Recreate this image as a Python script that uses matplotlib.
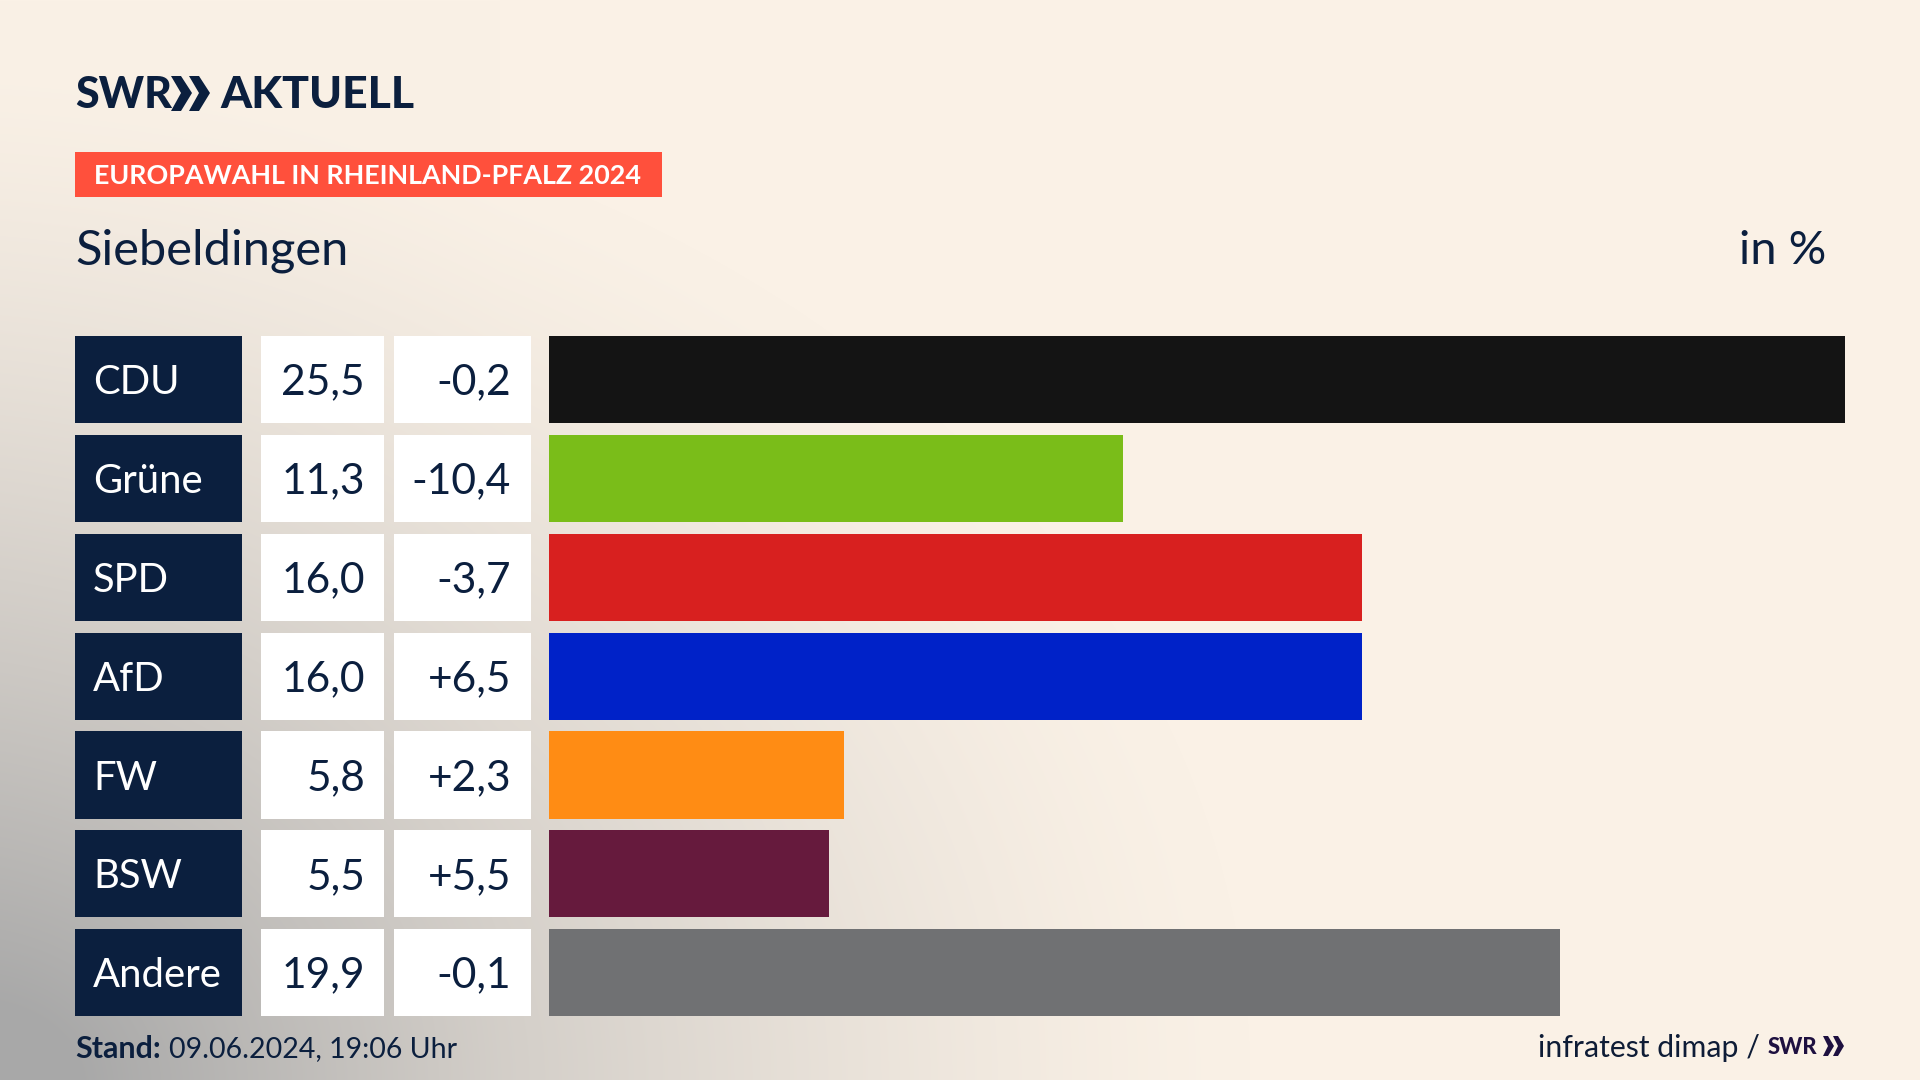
import numpy as np
import matplotlib
matplotlib.use("Agg")
import matplotlib.pyplot as plt
from matplotlib.patches import Rectangle, Polygon
from matplotlib.colors import to_rgb

parties = ["CDU", "Grüne", "SPD", "AfD", "FW", "BSW", "Andere"]
shares = [25.5, 11.3, 16.0, 16.0, 5.8, 5.5, 19.9]
changes = ["-0,2", "-10,4", "-3,7", "+6,5", "+2,3", "+5,5", "-0,1"]
colors = ["#141414", "#7ABD19", "#D8201F", "#0022C8", "#FF8C14", "#661A3D", "#707173"]

NAVY = "#0B1F3E"
FONT = "Lato"
W, H = 1920, 1080
fig = plt.figure(figsize=(19.2, 10.8), dpi=100)

# background gradient
bg = fig.add_axes([0, 0, 1, 1]); bg.axis("off")
yy, xx = np.mgrid[0:H, 0:W]
d1 = np.sqrt((xx / 1250.0) ** 2 + ((H - yy) / 1000.0) ** 2)
t1 = np.clip(1 - d1, 0, 1) ** 1.35
d2 = np.clip(1 - xx / 500.0, 0, 1) * np.clip(yy / 1080.0, 0, 1)
t = np.clip(t1 * 0.95 + d2 * 0.15, 0, 1)[..., None]
c0, c1 = np.array(to_rgb("#FAF1E6")), np.array(to_rgb("#A8A8A8"))
bg.imshow(c0 * (1 - t) + c1 * t, extent=(0, W, H, 0), aspect="auto")
bg.set_xlim(0, W); bg.set_ylim(H, 0)

# overlay in pixel coordinates
ov = fig.add_axes([0, 0, 1, 1]); ov.axis("off"); ov.patch.set_alpha(0)
ov.set_xlim(0, W); ov.set_ylim(H, 0)

def px(v):
    return v * 0.72

ov.text(75, 95, "SWR", family=FONT, weight="black", size=px(43), color=NAVY, va="center", ha="left")
for x0 in (171, 189):
    ov.add_patch(Polygon([(x0, 76), (x0 + 10, 76), (x0 + 21, 93), (x0 + 10, 111), (x0, 111), (x0 + 10, 93)],
                         closed=True, color=NAVY, lw=0))
ov.text(220, 95, "AKTUELL", family=FONT, weight="black", size=px(44.5), color=NAVY, va="center", ha="left")

ov.add_patch(Rectangle((75, 152), 587, 45, color="#FF503C", lw=0))
ov.text(94, 176, "EUROPAWAHL IN RHEINLAND-PFALZ 2024", family=FONT, weight="bold", size=px(26.9),
        color="white", va="center", ha="left")
ov.text(75, 251, "Siebeldingen", family=FONT, size=px(48.8), color=NAVY, va="center", ha="left")
ov.text(1826, 251, "in %", family=FONT, size=px(47), color=NAVY, va="center", ha="right")

row_h = 87.2
pitch = 98.85
top = 336
for i, (p, s, c) in enumerate(zip(parties, shares, changes)):
    y = top + i * pitch
    ov.add_patch(Rectangle((75, y), 167, row_h, color=NAVY, lw=0))
    ov.add_patch(Rectangle((261, y), 123, row_h, color="white", lw=0))
    ov.add_patch(Rectangle((394, y), 137, row_h, color="white", lw=0))
    ym = y + row_h / 2 + 3
    ov.text(93, ym, p, family=FONT, size=px(40), color="white", va="center", ha="left")
    ov.text(365, ym, f"{s:.1f}".replace(".", ","), family=FONT, size=px(42.5), color=NAVY, va="center", ha="right")
    ov.text(511, ym, c, family=FONT, size=px(42.5), color=NAVY, va="center", ha="right")

# bars on data axes
ax = fig.add_axes([549 / W, 0, (1845 - 549) / W, 1]); ax.axis("off"); ax.patch.set_alpha(0)
ax.set_xlim(0, 25.5); ax.set_ylim(H, 0)
centers = [top + i * pitch + row_h / 2 for i in range(len(parties))]
ax.barh(centers, shares, height=row_h, color=colors, linewidth=0)

ov.text(75, 1049, "Stand:", family=FONT, weight="bold", size=px(30.5), color=NAVY, va="center", ha="left")
ov.text(169, 1049, "09.06.2024, 19:06 Uhr", family=FONT, size=px(28.5), color=NAVY, va="center", ha="left")
ov.text(1760, 1048, "infratest dimap /", family=FONT, size=px(30.3), color="#0E1C36", va="center", ha="right")
ov.text(1768, 1047, "SWR", family=FONT, weight="black", size=px(22), color="#1E1040", va="center", ha="left")
for x0 in (1823, 1833):
    ov.add_patch(Polygon([(x0, 1036), (x0 + 5, 1036), (x0 + 11, 1046), (x0 + 5, 1056), (x0, 1056), (x0 + 5, 1046)],
                         closed=True, color="#1E1040", lw=0))

fig.savefig("out.png", dpi=100)
